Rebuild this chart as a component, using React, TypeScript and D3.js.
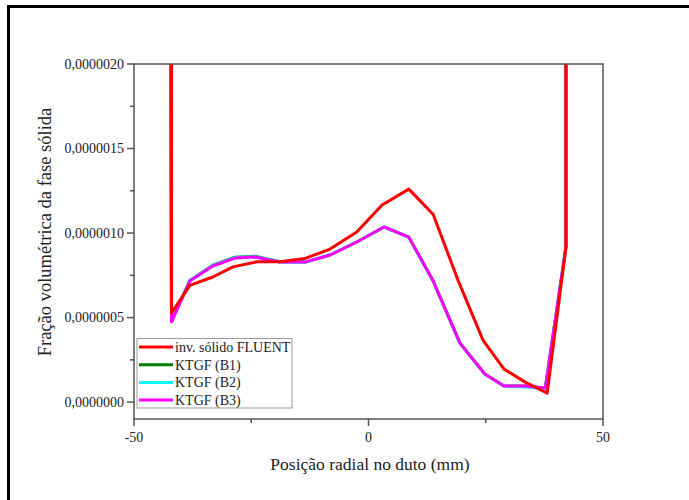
import React from "react";
import * as d3 from "d3";

const xTicks = [-50, 0, 50];
const xMinor = [-25, 25];
const yTicks = [0, 0.0000005, 0.000001, 0.0000015, 0.000002];
const yMinor = [0.00000025, 0.00000075, 0.00000125, 0.00000175];
const yTickLabels = ["0,0000000", "0,0000005", "0,0000010", "0,0000015", "0,0000020"];

const xFluent = [-42, -42, -38.1, -33.2, -28.9, -23.8, -18.9, -13.5, -8.2, -2.5, 2.9, 8.6, 13.8, 19.1, 24.4, 28.9, 33.4, 38.1, 42.1, 42.1];
const yFluent = [3.0, 0.527, 0.69, 0.74, 0.8, 0.83, 0.83, 0.85, 0.905, 1.006, 1.166, 1.26, 1.11, 0.72, 0.367, 0.195, 0.118, 0.053, 0.917, 3.0];

const xKtgf = [-42.3, -42, -38.1, -33.2, -28.5, -24.2, -18.9, -13.5, -8.2, -2.5, 3.3, 8.6, 13.8, 19.5, 24.8, 28.9, 33.4, 37.7, 42.1, 42.1];
const yB1 = [3.0, 0.48, 0.72, 0.81, 0.857, 0.863, 0.83, 0.828, 0.87, 0.947, 1.036, 0.976, 0.716, 0.349, 0.166, 0.095, 0.095, 0.083, 0.917, 3.0];
const yB2 = [3.0, 0.478, 0.718, 0.808, 0.855, 0.86, 0.829, 0.828, 0.87, 0.947, 1.036, 0.976, 0.716, 0.349, 0.166, 0.095, 0.09, 0.078, 0.917, 3.0];
const yB3 = [3.0, 0.475, 0.716, 0.805, 0.852, 0.858, 0.828, 0.828, 0.87, 0.947, 1.036, 0.976, 0.716, 0.349, 0.166, 0.095, 0.095, 0.083, 0.917, 3.0];

const seriesNames = ["inv. sólido FLUENT", "KTGF (B1)", "KTGF (B2)", "KTGF (B3)"];
const seriesColors = ["#ff0000", "#008000", "#00ffff", "#ff00ff"];

const W = 689;
const H = 500;
const M = { left: 134, right: 603, top: 64, bottom: 419 };
const FONT = "'Liberation Serif', 'DejaVu Serif', serif";

export default function App() {
  const x = d3.scaleLinear().domain([-50, 50]).range([M.left, M.right]);
  const y = d3.scaleLinear().domain([-0.0000001, 0.000002]).range([M.bottom, M.top]);
  const line = (xs: number[], ys: number[]) =>
    d3.line<number>().x((_, i) => x(xs[i])).y((v) => y(v * 1e-6))(ys) || "";

  const series = [
    { xs: xFluent, ys: yFluent },
    { xs: xKtgf, ys: yB1 },
    { xs: xKtgf, ys: yB2 },
    { xs: xKtgf, ys: yB3 },
  ];
  const drawOrder = [1, 2, 3, 0];
  const axisColor = "#555";

  return (
    <svg width={W} height={H} style={{ position: "absolute", left: 0, top: 0, fontFamily: FONT }}>
      <rect x={0} y={0} width={W} height={H} fill="#fff" />
      <line x1={8.5} y1={6} x2={8.5} y2={H} stroke="#000" strokeWidth={3} />
      <line x1={7} y1={6.5} x2={W} y2={6.5} stroke="#000" strokeWidth={3} />
      <defs>
        <clipPath id="plotclip">
          <rect x={M.left} y={M.top} width={M.right - M.left} height={M.bottom - M.top} />
        </clipPath>
      </defs>
      <g clipPath="url(#plotclip)">
        {drawOrder.map((i) => (
          <path key={i} d={line(series[i].xs, series[i].ys)} fill="none" stroke={seriesColors[i]} strokeWidth={3} strokeLinejoin="round" />
        ))}
      </g>
      <rect x={M.left} y={M.top} width={M.right - M.left} height={M.bottom - M.top} fill="none" stroke={axisColor} strokeWidth={1.5} />
      {yTicks.map((t, i) => (
        <g key={"yt" + i}>
          <line x1={M.left - 7} x2={M.left} y1={y(t)} y2={y(t)} stroke={axisColor} strokeWidth={1.5} />
          <text x={M.left - 10} y={y(t)} dy="0.35em" textAnchor="end" fontSize={14} fill="#222" style={{ fontFamily: FONT }}>
            {yTickLabels[i]}
          </text>
        </g>
      ))}
      {yMinor.map((t, i) => (
        <line key={"ym" + i} x1={M.left - 4} x2={M.left} y1={y(t)} y2={y(t)} stroke={axisColor} strokeWidth={1.5} />
      ))}
      {xTicks.map((t, i) => (
        <g key={"xt" + i}>
          <line x1={x(t)} x2={x(t)} y1={M.bottom} y2={M.bottom + 7} stroke={axisColor} strokeWidth={1.5} />
          <text x={x(t)} y={M.bottom + 23} textAnchor="middle" fontSize={14} fill="#222" style={{ fontFamily: FONT }}>
            {t}
          </text>
        </g>
      ))}
      {xMinor.map((t, i) => (
        <line key={"xm" + i} x1={x(t)} x2={x(t)} y1={M.bottom} y2={M.bottom + 4} stroke={axisColor} strokeWidth={1.5} />
      ))}
      <text x={370} y={470} textAnchor="middle" fontSize={17.5} fill="#222" style={{ fontFamily: FONT }}>
        Posição radial no duto (mm)
      </text>
      <text transform={`translate(51, 232) rotate(-90)`} textAnchor="middle" fontSize={18.5} fill="#222" style={{ fontFamily: FONT }}>
        Fração volumétrica da fase sólida
      </text>
      <g>
        <rect x={137} y={338.5} width={155} height={69.5} fill="#fff" stroke="#999" strokeWidth={1} />
        {seriesNames.map((n, i) => (
          <g key={"lg" + i}>
            <line x1={139} x2={173} y1={347 + i * 17.7} y2={347 + i * 17.7} stroke={seriesColors[i]} strokeWidth={3} />
            <text x={175} y={347 + i * 17.7} dy="0.35em" fontSize={14} fill="#222" style={{ fontFamily: FONT }}>
              {n}
            </text>
          </g>
        ))}
      </g>
    </svg>
  );
}
